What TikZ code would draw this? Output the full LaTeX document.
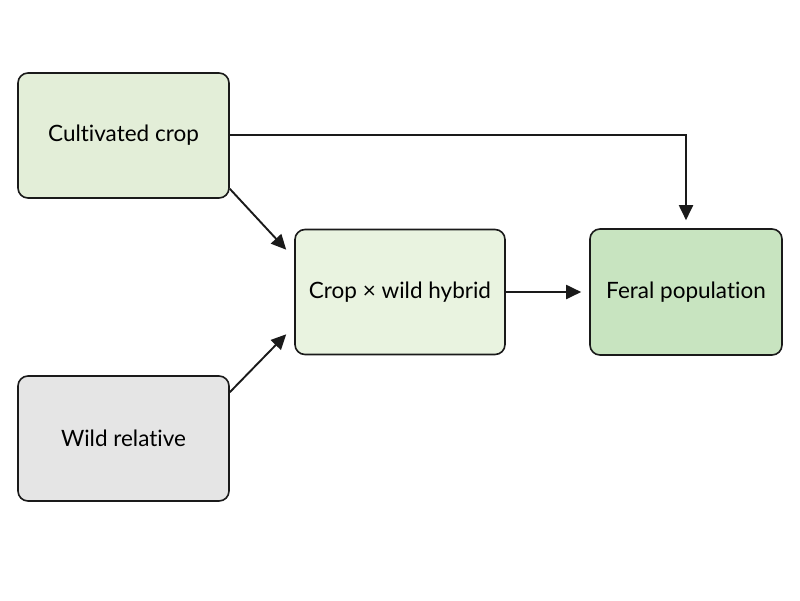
\documentclass[tikz,border=0pt]{standalone}
\usepackage{fontspec}
\setmainfont{Lato}[Ligatures=NoCommon]
\usetikzlibrary{arrows.meta,calc}
\definecolor{cropgreen}{HTML}{E3EED8}
\definecolor{hybgreen}{HTML}{E9F3E0}
\definecolor{feralgreen}{HTML}{C8E4C0}
\definecolor{wildgray}{HTML}{E5E5E5}
\definecolor{edge}{HTML}{1A1A1A}
\tikzset{
  box/.style={draw=edge, line width=1.6pt, rounded corners=10pt, inner sep=0pt,
    font=\fontsize{22.5}{26}\selectfont, text=black},
  conn/.style={draw=edge, line width=1.9pt, -{Triangle[length=15pt,width=14pt]}}
}
\begin{document}
\begin{tikzpicture}[x=1pt,y=-1pt]
\useasboundingbox (0,0) rectangle (800,600);
\node[box, fill=cropgreen, minimum width=211pt, minimum height=125pt] (c) at (123.5,135.5) {Cultivated crop};
\node[box, fill=wildgray, minimum width=211pt, minimum height=125pt] (w) at (123.5,438.5) {Wild relative};
\node[box, fill=hybgreen, minimum width=210pt, minimum height=125pt] (h) at (400,292) {Crop × wild hybrid};
\node[box, fill=feralgreen, minimum width=192pt, minimum height=126pt] (f) at (686,292) {Feral population};
\coordinate (bend) at (686,135);
\draw[conn] (c.east |- bend) -- (bend) -- ($(f.north)+(0,-8)$);
\draw[conn] ($(c.south east)+(0,-10)$) -- ($(h.north west)+(-8,21)$);
\draw[conn] ($(w.north east)+(0,17)$) -- ($(h.south west)+(-8,-21)$);
\draw[conn] (h.east) -- ($(f.west)+(-8,0)$);
\end{tikzpicture}
\end{document}
